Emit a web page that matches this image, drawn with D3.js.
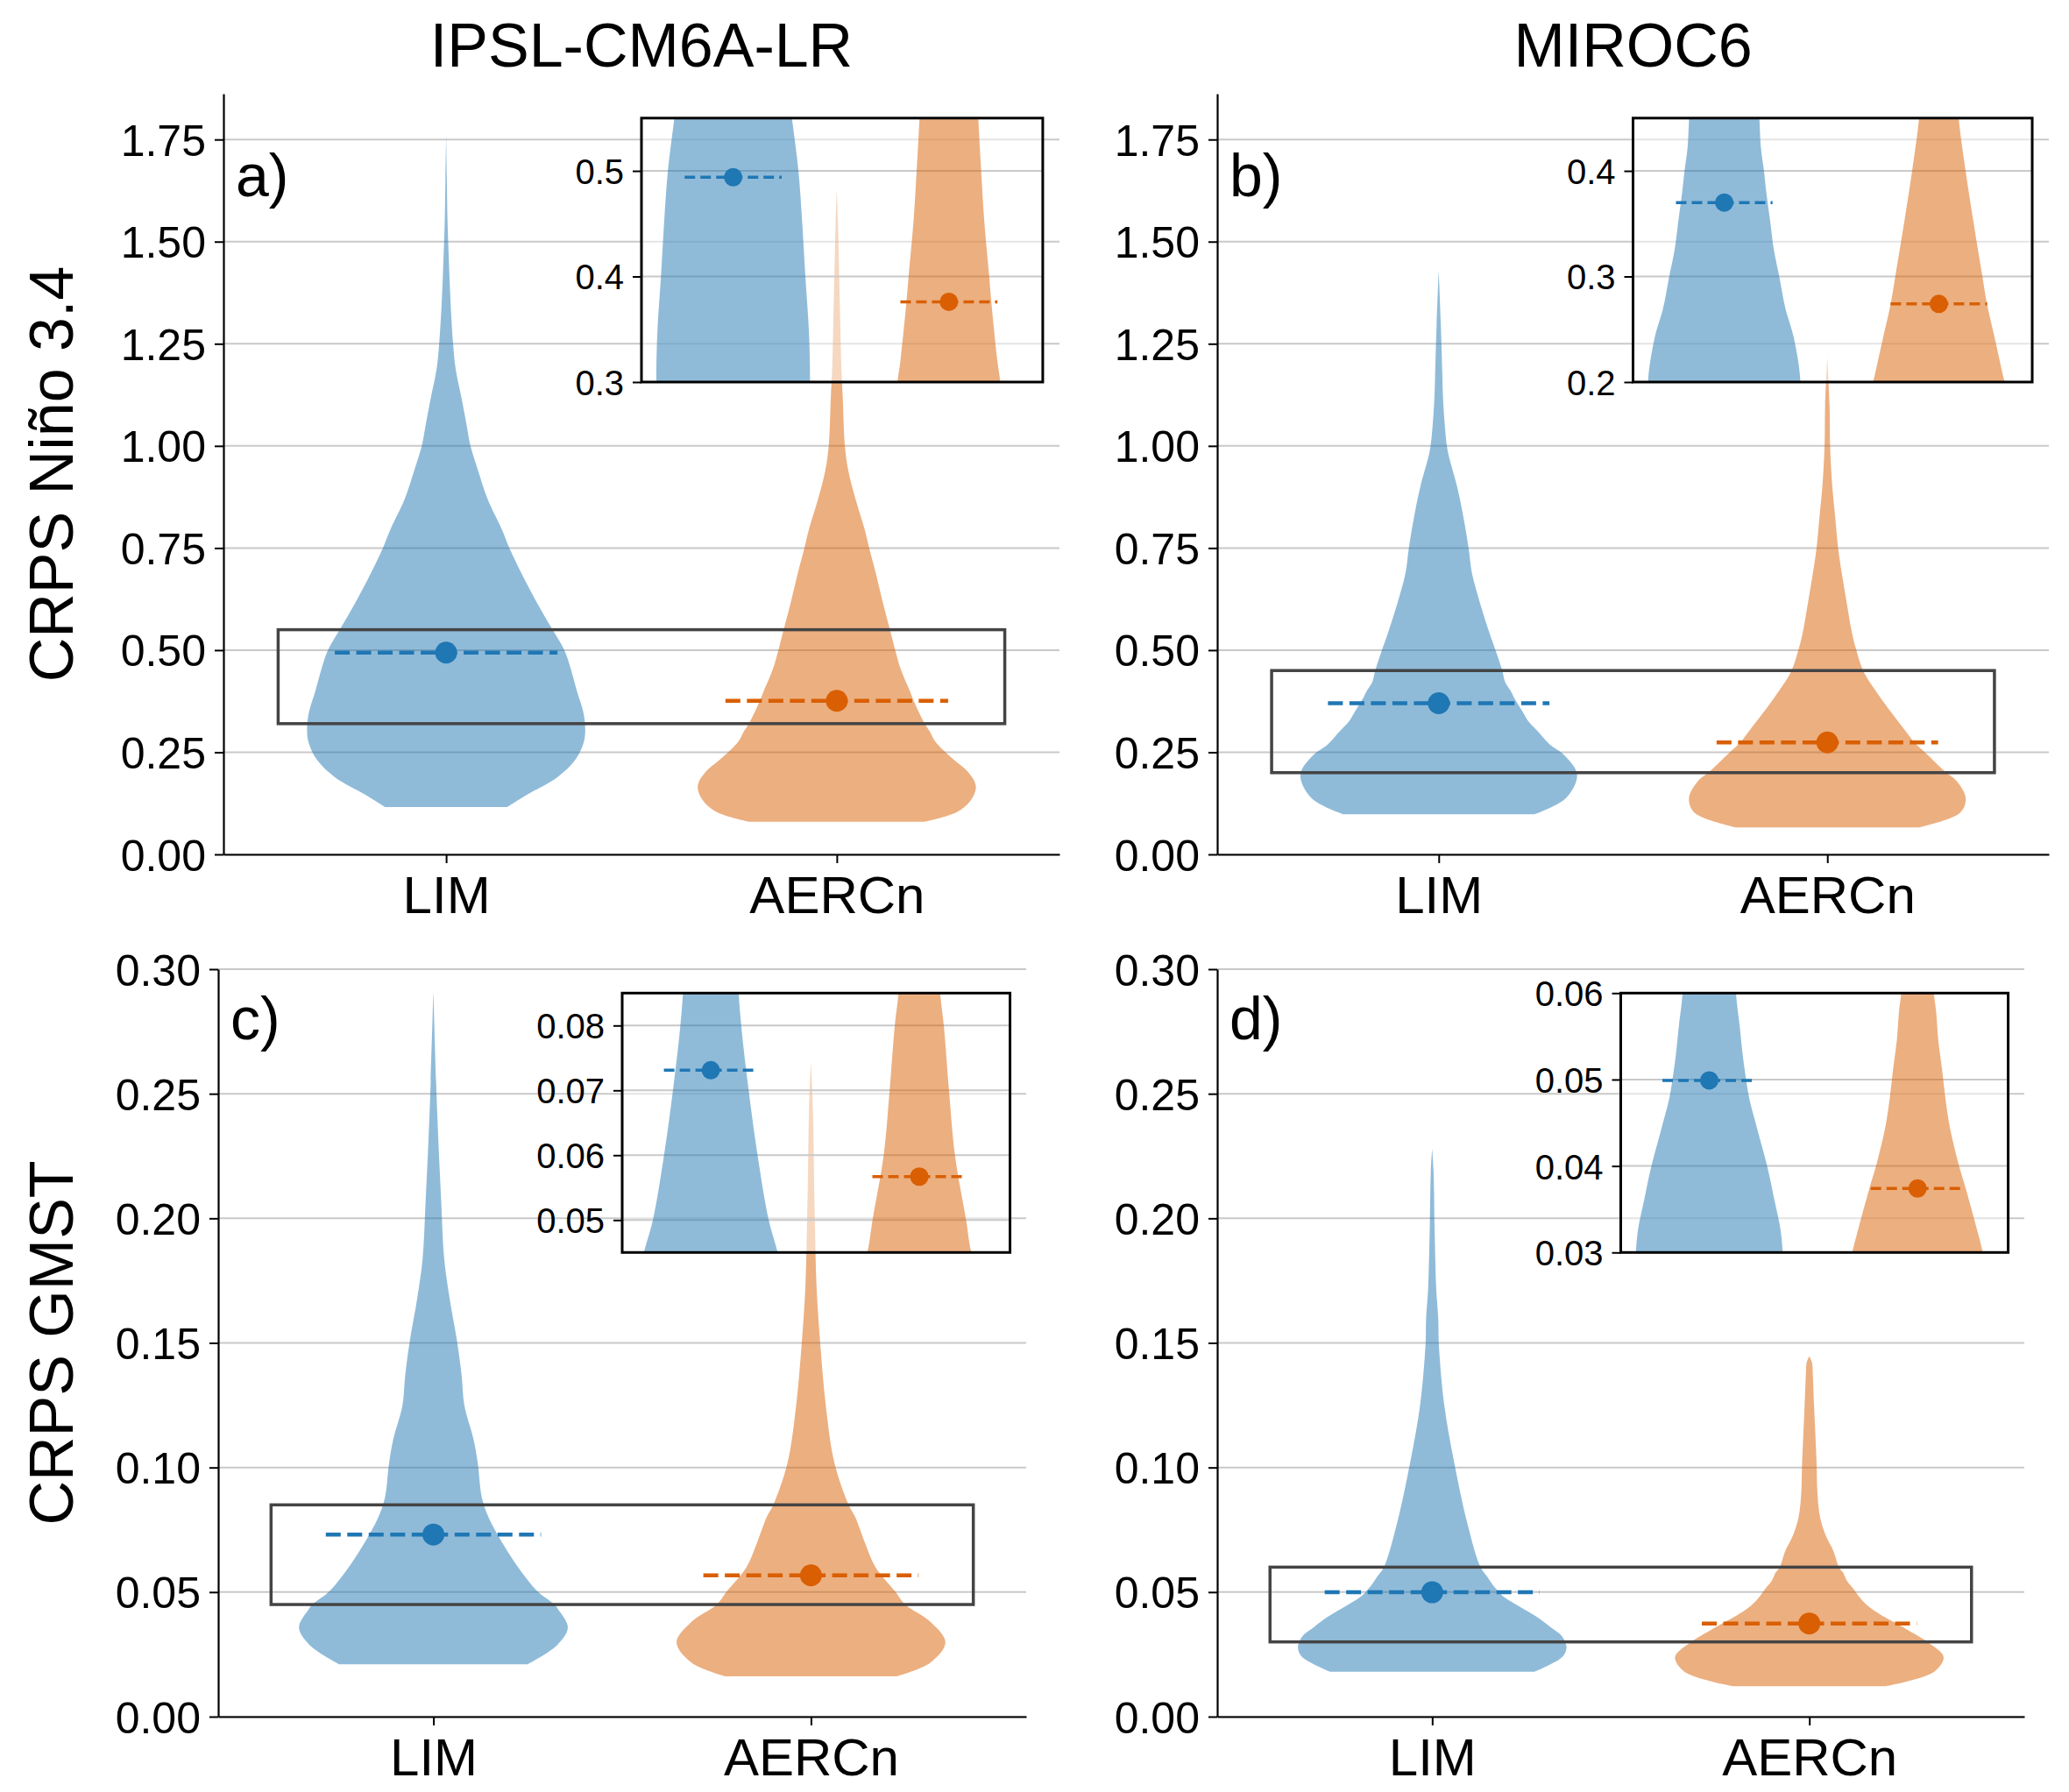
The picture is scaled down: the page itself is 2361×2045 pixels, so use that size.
<!DOCTYPE html>
<html>
<head>
<meta charset="utf-8">
<script src="https://cdn.jsdelivr.net/npm/d3@7"></script>
<style>
  body { margin: 0; background: #fff; }
  svg text { font-family: "Liberation Sans", Arial, Helvetica, sans-serif; fill: #000; }
</style>
</head>
<body>
<script>
// ---- data ----
const categories = ["LIM", "AERCn"];
const models     = ["IPSL-CM6A-LR", "MIROC6"];
const metrics    = ["CRPS Niño 3.4", "CRPS GMST"];
const panelTags  = ["a)", "b)", "c)", "d)"];

const yRangeNino = [0, 1.862];
const yRangeGmst = [0, 0.30];
const yTicksNino = [0, 0.25, 0.50, 0.75, 1.00, 1.25, 1.50, 1.75];
const yTicksGmst = [0, 0.05, 0.10, 0.15, 0.20, 0.25, 0.30];

// zoomed windows: inset y-range, outline box drawn on the main axes, inset ticks
const insetRangeA = [0.30, 0.55],  boxRangeA = [0.32, 0.55],  insetTicksA = [0.3, 0.4, 0.5];
const insetRangeB = [0.20, 0.45],  boxRangeB = [0.20, 0.45],  insetTicksB = [0.2, 0.3, 0.4];
const insetRangeC = [0.045, 0.085], boxRangeC = [0.045, 0.085], insetTicksC = [0.05, 0.06, 0.07, 0.08];
const insetRangeD = [0.03, 0.06],  boxRangeD = [0.03, 0.06],  insetTicksD = [0.03, 0.04, 0.05, 0.06];

// means [LIM, AERCn]
const meansA = [0.494, 0.376];
const meansB = [0.370, 0.274];
const meansC = [0.0731, 0.0567];
const meansD = [0.0499, 0.0374];

// violin outlines: [value, half width relative to the widest point]
const violinA_LIM = [[0.116,0.44],[0.146,0.58],[0.189,0.80],[0.232,0.93],[0.275,0.99],[0.31,1.0],[0.35,0.985],[0.40,0.94],[0.45,0.90],[0.50,0.85],[0.553,0.76],[0.618,0.65],[0.689,0.54],[0.75,0.455],[0.796,0.40],[0.868,0.30],[0.939,0.23],[1.0,0.175],[1.046,0.15],[1.118,0.11],[1.189,0.068],[1.25,0.05],[1.35,0.032],[1.45,0.02],[1.55,0.01],[1.65,0.005],[1.76,0]];
const violinA_AERCn = [[0.08,0.63],[0.103,0.86],[0.131,0.96],[0.167,1.0],[0.203,0.94],[0.232,0.84],[0.275,0.71],[0.30,0.67],[0.321,0.63],[0.378,0.55],[0.40,0.525],[0.453,0.46],[0.50,0.42],[0.553,0.38],[0.618,0.33],[0.689,0.28],[0.75,0.233],[0.796,0.20],[0.868,0.136],[0.939,0.083],[1.0,0.058],[1.118,0.043],[1.19,0.033],[1.3,0.025],[1.45,0.015],[1.55,0.008],[1.63,0]];
const violinB_LIM = [[0.098,0.69],[0.138,0.92],[0.195,1.0],[0.242,0.91],[0.27,0.80],[0.30,0.72],[0.325,0.65],[0.353,0.60],[0.38,0.55],[0.40,0.52],[0.422,0.48],[0.449,0.46],[0.504,0.406],[0.546,0.363],[0.618,0.296],[0.689,0.24],[0.75,0.216],[0.832,0.175],[0.904,0.13],[0.975,0.073],[1.0,0.059],[1.046,0.045],[1.118,0.031],[1.189,0.025],[1.3,0.015],[1.43,0]];
const violinB_AERCn = [[0.066,0.66],[0.102,0.96],[0.138,1.0],[0.181,0.93],[0.20,0.86],[0.242,0.73],[0.274,0.63],[0.30,0.57],[0.353,0.45],[0.40,0.35],[0.449,0.26],[0.504,0.206],[0.546,0.176],[0.618,0.139],[0.689,0.104],[0.75,0.078],[0.832,0.055],[0.904,0.035],[1.0,0.02],[1.1,0.016],[1.217,0]];
const violinC_LIM = [[0.021,0.70],[0.0287,0.92],[0.0358,1.0],[0.0429,0.93],[0.045,0.90],[0.05,0.78],[0.06,0.63],[0.07,0.51],[0.08,0.41],[0.088,0.36],[0.1017,0.33],[0.111,0.30],[0.125,0.23],[0.137,0.21],[0.151,0.175],[0.168,0.12],[0.184,0.08],[0.208,0.057],[0.231,0.037],[0.255,0.02],[0.291,0]];
const violinC_AERCn = [[0.0162,0.64],[0.0217,0.89],[0.0299,1.0],[0.038,0.89],[0.045,0.70],[0.05,0.63],[0.06,0.48],[0.07,0.40],[0.08,0.33],[0.085,0.28],[0.1017,0.175],[0.125,0.11],[0.149,0.07],[0.172,0.042],[0.196,0.03],[0.219,0.022],[0.243,0.015],[0.263,0]];
const violinD_LIM = [[0.018,0.76],[0.024,0.97],[0.0275,1.0],[0.03,0.99],[0.0327,0.96],[0.036,0.88],[0.04,0.78],[0.0445,0.64],[0.0478,0.54],[0.0498,0.50],[0.0529,0.45],[0.0562,0.41],[0.06,0.36],[0.078,0.26],[0.1017,0.165],[0.125,0.09],[0.149,0.05],[0.16,0.045],[0.172,0.03],[0.196,0.018],[0.219,0.01],[0.228,0]];
const violinD_AERCn = [[0.0122,0.57],[0.018,0.93],[0.024,1.0],[0.03,0.88],[0.0327,0.80],[0.0374,0.65],[0.04,0.56],[0.0445,0.435],[0.0478,0.376],[0.0512,0.33],[0.0545,0.28],[0.0579,0.25],[0.06,0.22],[0.0664,0.18],[0.073,0.12],[0.08,0.08],[0.09,0.06],[0.1017,0.054],[0.113,0.045],[0.125,0.035],[0.137,0.026],[0.142,0.02],[0.1446,0]];

// ---- styling / layout ----
const COLORS       = ["#1f77b4", "#d95f02"];
const GRID         = "#c9c9c9";
const X_DOMAIN     = [0.43, 2.57];
const INSET_X      = [0.575, 2.435];
const BOX_X        = [0.57, 2.43];
const HALF_WIDTH   = 0.356;   // widest point of a violin, x units
const MEAN_HALF    = 0.285;
const INSET_MEAN_HALF = 0.225;
const FONT_TICK = 50, FONT_CAT = 60, FONT_INSET = 40, FONT_BIG = 70, FONT_TAG = 68;

const panels = [
  { box: {left: 255,  right: 1209, top: 107,  bottom: 975},  yRange: yRangeNino, yTicks: yTicksNino, fmt: ".2f",
    violins: [violinA_LIM, violinA_AERCn], means: meansA, inset: insetRangeA, zoomBox: boxRangeA, insetTicks: insetTicksA, insetFmt: ".1f", tagDrop: 117 },
  { box: {left: 1389, right: 2338, top: 107,  bottom: 975},  yRange: yRangeNino, yTicks: yTicksNino, fmt: ".2f",
    violins: [violinB_LIM, violinB_AERCn], means: meansB, inset: insetRangeB, zoomBox: boxRangeB, insetTicks: insetTicksB, insetFmt: ".1f", tagDrop: 117 },
  { box: {left: 249,  right: 1171, top: 1106, bottom: 1959}, yRange: yRangeGmst, yTicks: yTicksGmst, fmt: ".2f",
    violins: [violinC_LIM, violinC_AERCn], means: meansC, inset: insetRangeC, zoomBox: boxRangeC, insetTicks: insetTicksC, insetFmt: ".2f", tagDrop: 80 },
  { box: {left: 1389, right: 2310, top: 1106, bottom: 1959}, yRange: yRangeGmst, yTicks: yTicksGmst, fmt: ".2f",
    violins: [violinD_LIM, violinD_AERCn], means: meansD, inset: insetRangeD, zoomBox: boxRangeD, insetTicks: insetTicksD, insetFmt: ".2f", tagDrop: 80 }
];

const svg = d3.select("body").append("svg")
  .attr("width", 2361).attr("height", 2045);

function violinPath(x, y, pos) {
  return d3.area()
    .curve(d3.curveCatmullRom.alpha(0.5))
    .y(d => y(d[0]))
    .x0(d => x(pos - d[1] * HALF_WIDTH))
    .x1(d => x(pos + d[1] * HALF_WIDTH));
}

function drawMarks(g, p, x, y, half, r, lw, dash) {
  p.violins.forEach((v, i) => {
    g.append("path").datum(v)
      .attr("d", violinPath(x, y, i + 1))
      .attr("fill", COLORS[i]).attr("fill-opacity", 0.5);
  });
  p.means.forEach((m, i) => {
    g.append("line")
      .attr("x1", x(i + 1 - half)).attr("x2", x(i + 1 + half))
      .attr("y1", y(m)).attr("y2", y(m))
      .attr("stroke", COLORS[i]).attr("stroke-width", lw)
      .attr("stroke-dasharray", dash);
    g.append("circle")
      .attr("cx", x(i + 1)).attr("cy", y(m)).attr("r", r)
      .attr("fill", COLORS[i]);
  });
}

function styleAxis(sel, size) {
  sel.attr("font-size", null).attr("font-family", null);
  sel.selectAll("text").attr("font-size", size).attr("fill", "#000");
  sel.selectAll("line").attr("stroke", "#000").attr("stroke-width", 2);
  sel.select(".domain").attr("stroke", "#000").attr("stroke-width", 2.2);
}

function drawPanel(p, idx) {
  const b = p.box;
  const g = svg.append("g");
  const x = d3.scaleLinear().domain(X_DOMAIN).range([b.left, b.right]);
  const y = d3.scaleLinear().domain(p.yRange).range([b.bottom, b.top]);

  // horizontal grid
  g.append("g").selectAll("line").data(p.yTicks).join("line")
    .attr("x1", b.left).attr("x2", b.right)
    .attr("y1", d => y(d)).attr("y2", d => y(d))
    .attr("stroke", GRID).attr("stroke-width", 2);

  drawMarks(g, p, x, y, MEAN_HALF, 12.5, 4.5, "17,7.5");

  // box marking the zoomed window
  g.append("rect")
    .attr("x", x(BOX_X[0])).attr("y", y(p.zoomBox[1]))
    .attr("width", x(BOX_X[1]) - x(BOX_X[0]))
    .attr("height", y(p.zoomBox[0]) - y(p.zoomBox[1]))
    .attr("fill", "none").attr("stroke", "#444").attr("stroke-width", 3.5);

  // axes (left + bottom spines only)
  const ay = g.append("g").attr("transform", `translate(${b.left},0)`)
    .call(d3.axisLeft(y).tickValues(p.yTicks).tickFormat(d3.format(p.fmt))
      .tickSize(10).tickSizeOuter(0).tickPadding(10));
  styleAxis(ay, FONT_TICK);
  ay.selectAll("text").attr("dy", "0.36em");

  const ax = g.append("g").attr("transform", `translate(0,${b.bottom})`)
    .call(d3.axisBottom(x).tickValues([1, 2]).tickFormat(d => categories[d - 1])
      .tickSize(10).tickSizeOuter(0).tickPadding(14));
  styleAxis(ax, FONT_CAT);
  ax.selectAll("text").attr("dy", "0.72em");

  // inset
  const iw = (b.right - b.left) * 0.48, ih = (b.bottom - b.top) * 0.347;
  const il = b.left + (b.right - b.left) * 0.5, it = b.top + (b.bottom - b.top) * 0.032;
  const ix = d3.scaleLinear().domain(INSET_X).range([il, il + iw]);
  const iy = d3.scaleLinear().domain(p.inset).range([it + ih, it]);
  const clipId = "inset-clip-" + idx;
  svg.append("clipPath").attr("id", clipId)
    .append("rect").attr("x", il).attr("y", it).attr("width", iw).attr("height", ih);

  const ig = svg.append("g");
  ig.append("rect").attr("x", il).attr("y", it).attr("width", iw).attr("height", ih)
    .attr("fill", "#fff").attr("fill-opacity", 0.5);
  ig.append("g").selectAll("line").data(p.insetTicks).join("line")
    .attr("x1", il).attr("x2", il + iw)
    .attr("y1", d => iy(d)).attr("y2", d => iy(d))
    .attr("stroke", GRID).attr("stroke-width", 2);
  const inner = ig.append("g").attr("clip-path", `url(#${clipId})`);
  drawMarks(inner, p, ix, iy, INSET_MEAN_HALF, 10.5, 3.5, "12,6");
  ig.append("rect").attr("x", il).attr("y", it).attr("width", iw).attr("height", ih)
    .attr("fill", "none").attr("stroke", "#000").attr("stroke-width", 3);
  const iay = ig.append("g").attr("transform", `translate(${il},0)`)
    .call(d3.axisLeft(iy).tickValues(p.insetTicks).tickFormat(d3.format(p.insetFmt))
      .tickSize(10).tickSizeOuter(0).tickPadding(10));
  styleAxis(iay, FONT_INSET);
  iay.select(".domain").remove();
  iay.selectAll("text").attr("dy", "0.36em");

  // panel tag
  svg.append("text").attr("x", b.left + 14).attr("y", b.top + p.tagDrop)
    .attr("font-size", FONT_TAG).text(panelTags[idx]);
}

panels.forEach(drawPanel);

// column titles
models.forEach((m, i) => {
  const b = panels[i].box;
  svg.append("text").attr("x", (b.left + b.right) / 2).attr("y", 76)
    .attr("text-anchor", "middle").attr("font-size", FONT_BIG).text(m);
});

// row labels
metrics.forEach((m, i) => {
  const b = panels[i * 2].box;
  svg.append("text")
    .attr("transform", `translate(83,${(b.top + b.bottom) / 2}) rotate(-90)`)
    .attr("text-anchor", "middle").attr("font-size", FONT_BIG).text(m);
});
</script>
</body>
</html>
